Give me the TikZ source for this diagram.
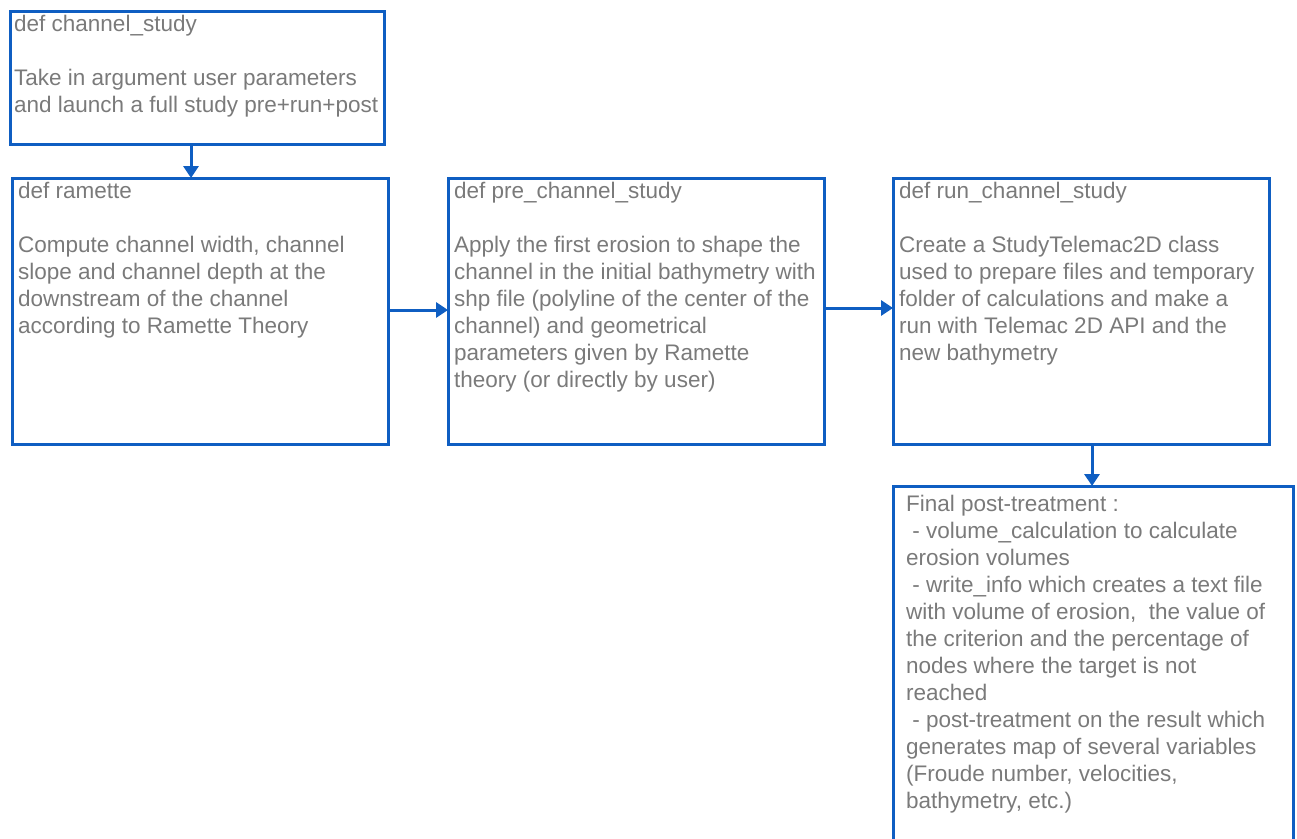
\documentclass[tikz,border=0pt]{standalone}
\usepackage{fontspec}
\setmainfont{Liberation Sans}
\usetikzlibrary{arrows.meta}
\definecolor{boxblue}{HTML}{0F5EC2}
\definecolor{txtgray}{HTML}{7A7A7A}
\tikzset{
  box/.style={draw=boxblue, line width=3pt, rectangle, anchor=north west, inner sep=0pt, outer sep=0pt},
  txt/.style={anchor=north west, inner sep=0pt, align=left, text=txtgray, font=\fontsize{22.5}{27}\selectfont},
  conn/.style={draw=boxblue, line width=3pt, -{Triangle[length=12pt,width=15pt]}}
}
\begin{document}
\begin{tikzpicture}[x=1pt,y=-1pt]
\useasboundingbox (0,0) rectangle (1297,838);
\begin{scope}
\clip (0,0) rectangle (1297,838);
\node[box, minimum width=374pt, minimum height=133pt] (cs) at (10,11) {};
\node[box, minimum width=376pt, minimum height=266pt] (ram) at (12,178) {};
\node[box, minimum width=376pt, minimum height=266pt] (pre) at (448,178) {};
\node[box, minimum width=376pt, minimum height=266pt] (run) at (893,178) {};
\node[box, minimum width=400pt, minimum height=400pt] (post) at (893,486) {};
\end{scope}

\node[txt] (cst) at (14,15) {def channel\_study\\[27pt]Take in argument user parameters\\and launch a full study pre+run+post};
\node[txt] (ramt) at (18,182) {def ramette\\[27pt]Compute channel width, channel\\slope and channel depth at the\\downstream of the channel\\according to Ramette Theory};
\node[txt] (pret) at (454,182) {def pre\_channel\_study\\[27pt]Apply the first erosion to shape the\\channel in the initial bathymetry with\\shp file (polyline of the center of the\\channel) and geometrical\\parameters given by Ramette\\theory (or directly by user)};
\node[txt] (runt) at (899,182) {def run\_channel\_study\\[27pt]Create a StudyTelemac2D class\\used to prepare files and temporary\\folder of calculations and make a\\run with Telemac 2D API and the\\new bathymetry};
\node[txt] (postt) at (906,495) {Final post-treatment :\\\ - volume\_calculation to calculate\\erosion volumes\\\ - write\_info which creates a text file\\with volume of erosion,\ \ the value of\\the criterion and the percentage of\\nodes where the target is not\\reached\\\ - post-treatment on the result which\\generates map of several variables\\(Froude number, velocities,\\bathymetry, etc.)};

\draw[conn] (cs.south -| 191,0) -- (ram.north -| 191,0);
\draw[conn] (ram.east |- 0,310) -- (pre.west |- 0,310);
\draw[conn] (pre.east |- 0,308) -- (run.west |- 0,308);
\draw[conn] (run.south -| 1092,0) -- (post.north -| 1092,0);
\end{tikzpicture}
\end{document}
